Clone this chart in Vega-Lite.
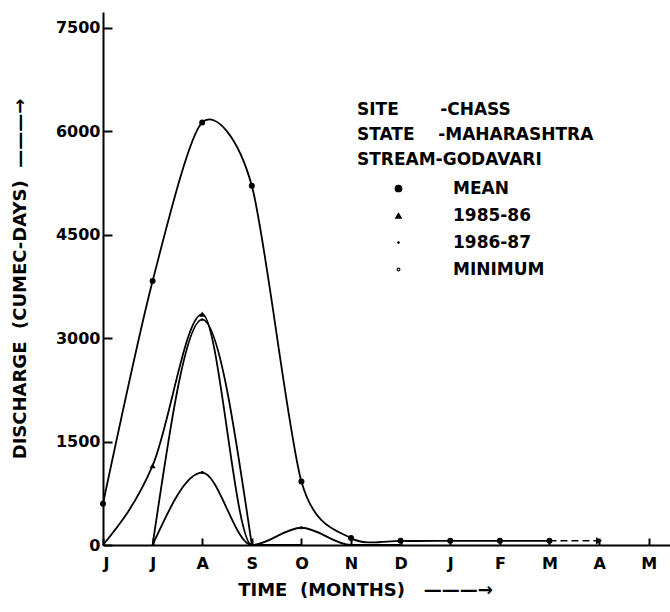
{
  "$schema": "https://vega.github.io/schema/vega-lite/v6.json",
  "width": 567,
  "height": 533,
  "autosize": {"type": "none"},
  "padding": {"left": 103, "top": 12, "right": 0, "bottom": 67},
  "background": "white",
  "config": {
    "view": {"stroke": null},
    "font": "DejaVu Sans",
    "axis": {
      "domainColor": "black",
      "domainWidth": 2,
      "ticks": true,
      "tickColor": "black",
      "tickOpacity": 1,
      "tickWidth": 2,
      "grid": false,
      "labelFont": "DejaVu Sans",
      "labelFontWeight": "bold",
      "labelFontSize": 16,
      "labelColor": "black",
      "titleFont": "DejaVu Sans",
      "titleFontWeight": "bold",
      "titleFontSize": 18,
      "titleColor": "black"
    }
  },
  "datasets": {
    "series": [
      {"month": 0, "value": 600, "series": "MEAN"},
      {"month": 1, "value": 3830, "series": "MEAN"},
      {"month": 2, "value": 6130, "series": "MEAN"},
      {"month": 3, "value": 5210, "series": "MEAN"},
      {"month": 4, "value": 920, "series": "MEAN"},
      {"month": 5, "value": 100, "series": "MEAN"},
      {"month": 6, "value": 60, "series": "MEAN"},
      {"month": 7, "value": 60, "series": "MEAN"},
      {"month": 8, "value": 60, "series": "MEAN"},
      {"month": 9, "value": 60, "series": "MEAN"},
      {"month": 0, "value": 0, "series": "1985-86"},
      {"month": 1, "value": 1150, "series": "1985-86"},
      {"month": 2, "value": 3350, "series": "1985-86"},
      {"month": 3, "value": 0, "series": "1985-86"},
      {"month": 4, "value": 0, "series": "1985-86"},
      {"month": 1, "value": 0, "series": "1986-87"},
      {"month": 2, "value": 3270, "series": "1986-87"},
      {"month": 3, "value": 0, "series": "1986-87"},
      {"month": 1, "value": 0, "series": "MINIMUM"},
      {"month": 2, "value": 1050, "series": "MINIMUM"},
      {"month": 3, "value": 0, "series": "MINIMUM"},
      {"month": 4, "value": 250, "series": "MINIMUM"},
      {"month": 5, "value": 0, "series": "MINIMUM"},
      {"month": 6, "value": 0, "series": "MINIMUM"}
    ],
    "tail": [
      {"month": 9, "value": 60},
      {"month": 10, "value": 60}
    ]
  },
  "layer": [
    {
      "data": {"name": "series"},
      "transform": [{"filter": "datum.series != 'MEAN'"}],
      "mark": {"type": "line", "interpolate": "monotone", "color": "black", "strokeWidth": 1.8},
      "encoding": {
        "x": {"field": "month", "type": "quantitative", "scale": {"domain": [0, 11.43], "nice": false, "zero": false},
          "axis": {
            "values": [0, 1, 2, 3, 4, 5, 6, 7, 8, 9, 10, 11],
            "labelExpr": "['J','J','A','S','O','N','D','J','F','M','A','M'][datum.value]",
            "tickSize": -7,
            "labelPadding": 17,
            "title": "TIME\u00a0\u00a0(MONTHS)\u00a0\u00a0\u00a0———→",
            "titleX": 262,
            "titlePadding": 10
          }
        },
        "y": {"field": "value", "type": "quantitative", "scale": {"domain": [0, 7732], "nice": false},
          "axis": {
            "values": [0, 1500, 3000, 4500, 6000, 7500],
            "format": "d",
            "tickSize": -9,
            "labelPadding": 12,
            "title": "DISCHARGE\u00a0\u00a0(CUMEC-DAYS)\u00a0\u00a0———→",
            "titleX": -74
          }
        },
        "detail": {"field": "series"}
      }
    },
    {
      "data": {"name": "series"},
      "transform": [{"filter": "datum.series == 'MEAN'"}],
      "mark": {"type": "line", "interpolate": "cardinal", "tension": 0.2, "color": "black", "strokeWidth": 1.8},
      "encoding": {
        "x": {"field": "month", "type": "quantitative"},
        "y": {"field": "value", "type": "quantitative"}
      }
    },
    {
      "data": {"name": "series"},
      "transform": [{"filter": "datum.series == 'MEAN' || datum.value > 0"}],
      "mark": {"type": "point", "filled": true, "color": "black", "size": 36, "opacity": 1},
      "encoding": {
        "x": {"field": "month", "type": "quantitative"},
        "y": {"field": "value", "type": "quantitative"},
        "shape": {
          "field": "series",
          "type": "nominal",
          "scale": {
            "domain": ["MEAN", "1985-86", "1986-87", "MINIMUM"],
            "range": [
              "circle",
              "triangle-up",
              "M-0.35,0A0.35,0.35 0 1,0 0.35,0A0.35,0.35 0 1,0 -0.35,0Z",
              "M-0.5,0A0.5,0.5 0 1,0 0.5,0A0.5,0.5 0 1,0 -0.5,0Z M-0.22,0A0.22,0.22 0 1,1 0.22,0A0.22,0.22 0 1,1 -0.22,0Z"
            ]
          },
          "legend": {
            "orient": "none",
            "legendX": 254,
            "legendY": 90,
            "padding": 0,
            "title": ["SITE\u00a0\u00a0\u00a0\u00a0\u00a0\u00a0\u00a0-CHASS", "STATE\u00a0\u00a0\u00a0\u00a0-MAHARASHTRA", "STREAM-GODAVARI"],
            "titleFont": "DejaVu Sans",
            "titleFontWeight": "bold",
            "titleFontSize": 17,
            "titleColor": "black",
            "titleLineHeight": 25,
            "titleLimit": 500,
            "titlePadding": 11,
            "labelFont": "DejaVu Sans",
            "labelFontWeight": "bold",
            "labelFontSize": 17,
            "labelColor": "black",
            "labelLimit": 300,
            "symbolOffset": 33,
            "labelOffset": 46,
            "symbolSize": 60,
            "symbolFillColor": "black",
            "symbolStrokeColor": "black",
            "rowPadding": 9
          }
        }
      }
    },
    {
      "data": {"name": "tail"},
      "mark": {"type": "line", "color": "black", "strokeWidth": 1.5, "strokeDash": [7, 4]},
      "encoding": {
        "x": {"field": "month", "type": "quantitative"},
        "y": {"field": "value", "type": "quantitative"}
      }
    },
    {
      "data": {"name": "tail"},
      "transform": [{"filter": "datum.month == 10"}],
      "mark": {"type": "point", "shape": "triangle-right", "filled": true, "color": "black", "size": 50, "opacity": 1},
      "encoding": {
        "x": {"field": "month", "type": "quantitative"},
        "y": {"field": "value", "type": "quantitative"}
      }
    }
  ]
}
